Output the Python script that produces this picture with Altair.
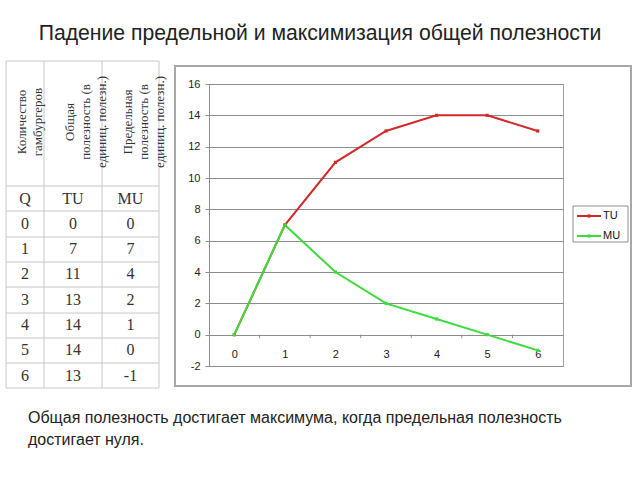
import altair as alt
import pandas as pd

# ---------------- data ----------------
Q = [0, 1, 2, 3, 4, 5, 6]
TU = [0, 7, 11, 13, 14, 14, 13]
MU = [0, 7, 4, 2, 1, 0, -1]
SERIES = ["TU", "MU"]
COLORS = ["#d22a2a", "#3ddc3d"]
COLS = ["Q", "TU", "MU"]
YTICKS = [-2, 0, 2, 4, 6, 8, 10, 12, 14, 16]
HEADERS = ["Количество\nгамбургеров",
           "Общая\nполезность (в\nединиц. полезн.)",
           "Предельная\nполезность (в\nединиц. полезн.)"]
TITLE = "Падение предельной и максимизация общей полезности"
NOTE = ["Общая полезность достигает максимума, когда предельная полезность",
        "достигает нуля."]

# ---------------- layout (pixels) ----------------
OX, OY = 209, 84          # plot-area origin
W, H = 354, 282           # plot-area size
SANS = "Liberation Sans"
SERIF = "Liberation Serif"
GRID = "#8c8c8c"

long = pd.DataFrame({
    "Q": Q * 2,
    "value": TU + MU,
    "series": ["TU"] * len(Q) + ["MU"] * len(Q),
})

xs = alt.Scale(domain=[-0.5, 6.5], nice=False, zero=False)
ys = alt.Scale(domain=[-2, 16], nice=False, zero=False)
color = alt.Color("series:N", scale=alt.Scale(domain=SERIES, range=COLORS), legend=None)

base = alt.Chart(long).encode(
    x=alt.X("Q:Q", scale=xs,
            axis=alt.Axis(values=Q, tickCount=20, ticks=False, domain=False, grid=False,
                          offset=-30, labelPadding=12, title=None, labelFont=SANS,
                          labelFontSize=11, labelColor="#222", labelOverlap=False,
                          labelExpr="'' + datum.value")),
    y=alt.Y("value:Q", scale=ys,
            axis=alt.Axis(values=YTICKS, tickCount=20, grid=True, gridColor=GRID,
                          domainColor=GRID, tickColor=GRID, tickSize=4, labelPadding=5,
                          title=None, labelFont=SANS, labelFontSize=11, labelColor="#222",
                          labelOverlap=False, labelBound=False,
                          labelExpr="'' + datum.value")),
    color=color,
)
lines = base.mark_line(strokeWidth=2)
pts = base.mark_point(shape="square", size=10, filled=True, opacity=1)

ticks = alt.Chart(pd.DataFrame({"Q": Q})).transform_calculate(
    b="datum.Q + 0.5").transform_filter("datum.b < 6").mark_rule(
    color=GRID, strokeWidth=1).encode(
    x=alt.X("b:Q", scale=xs), y=alt.datum(0), y2=alt.datum(-0.22))

plot = alt.layer(lines, pts, ticks)

# ---------------- table ----------------
cells = []
for ci, c in enumerate(COLS):
    cells.append({"ci": ci, "ri": 0, "t": c})
for r in range(len(Q)):
    for ci, arr in enumerate([Q, TU, MU]):
        cells.append({"ci": ci, "ri": r + 1, "t": str(arr[r])})
cells = pd.DataFrame(cells)

colscale = alt.Scale(domain=[0, 1, 2], range=[25 - OX, 73 - OX, 130.5 - OX])
rowscale = alt.Scale(domain=[0, 7], range=[198.5 - OY, 375.5 - OY])

cell_text = alt.Chart(cells).mark_text(font=SERIF, fontSize=16, color="#333",
                                       baseline="middle").encode(
    x=alt.X("ci:Q", scale=colscale, axis=None),
    y=alt.Y("ri:Q", scale=rowscale, axis=None),
    text="t:N")

head_df = pd.DataFrame({"ci": [0, 1, 2], "h": HEADERS})
head_text = alt.Chart(head_df).mark_text(font=SERIF, fontSize=13, color="#333", angle=270,
                                         align="center", baseline="middle", lineBreak="\n",
                                         lineHeight=16, dy=-3).encode(
    x=alt.X("ci:Q", scale=colscale, axis=None),
    y=alt.value(122 - OY),
    text="h:N")

vx = [6, 44, 102, 159]
hy = [61, 186, 211, 237, 262, 287, 313, 338, 363, 388]
segs = [{"x": x - OX, "x2": x - OX, "y": 61 - OY, "y2": 388 - OY} for x in vx]
segs += [{"x": 6 - OX, "x2": 159 - OX, "y": y - OY, "y2": y - OY} for y in hy]
grid_tab = alt.Chart(pd.DataFrame(segs)).mark_rule(color="#c8c8c8", strokeWidth=1).encode(
    x=alt.X("x:Q", scale=None), x2="x2:Q",
    y=alt.Y("y:Q", scale=None), y2="y2:Q")

table = alt.layer(grid_tab, cell_text, head_text)

# ---------------- frames, legend, texts ----------------
one = pd.DataFrame({"k": [0]})
outer = alt.Chart(one).mark_rect(filled=False, stroke="#a8a8a8", strokeWidth=2).encode(
    x=alt.value(175 - OX), x2=alt.value(631 - OX),
    y=alt.value(66 - OY), y2=alt.value(386 - OY))

leg_box = alt.Chart(one).mark_rect(filled=False, stroke=GRID, strokeWidth=1).encode(
    x=alt.value(573 - OX), x2=alt.value(628 - OX),
    y=alt.value(206 - OY), y2=alt.value(242 - OY))

leg_df = pd.DataFrame({"series": SERIES, "li": [0, 1]})
leg_y = alt.Y("li:Q", scale=alt.Scale(domain=[0, 1], range=[216 - OY, 236 - OY]), axis=None)
leg_line = alt.Chart(leg_df).mark_rule(strokeWidth=2).encode(
    x=alt.value(577 - OX), x2=alt.value(601 - OX), y=leg_y, color=color)
leg_pt = alt.Chart(leg_df).mark_point(shape="square", size=10, filled=True, opacity=1).encode(
    x=alt.value(589 - OX), y=leg_y, color=color)
leg_txt = alt.Chart(leg_df).mark_text(font=SANS, fontSize=11, align="left", baseline="middle",
                                      color="#111").encode(
    x=alt.value(603 - OX), y=leg_y, text="series:N")
legend = alt.layer(leg_box, leg_line, leg_pt, leg_txt)

title = alt.Chart(pd.DataFrame({"t": [TITLE]})).mark_text(
    font=SANS, fontSize=21.2, align="center", baseline="alphabetic", color="#222").encode(
    x=alt.value(320 - OX), y=alt.value(40 - OY), text="t:N")

note = alt.Chart(pd.DataFrame({"t": NOTE, "i": [0, 1]})).mark_text(
    font=SANS, fontSize=16, align="left", baseline="alphabetic", color="#222").encode(
    x=alt.value(28 - OX),
    y=alt.Y("i:Q", scale=alt.Scale(domain=[0, 1], range=[423 - OY, 445 - OY]), axis=None),
    text="t:N")

chart = alt.layer(outer, table, plot, legend, title, note).resolve_scale(
    x="independent", y="independent"
).properties(
    width=W, height=H,
    padding={"left": OX, "top": OY, "right": 640 - OX - W, "bottom": 480 - OY - H},
    autosize=alt.AutoSizeParams(type="none"),
    background="white",
).configure_view(stroke="#a0a0a0", strokeWidth=1)

chart.save("out.html", embed_options={"renderer": "svg", "actions": False})
